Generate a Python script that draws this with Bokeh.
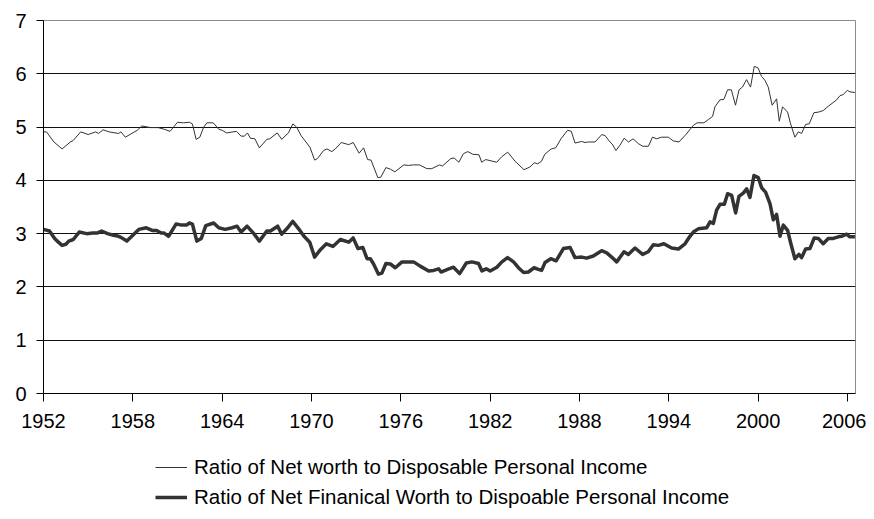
from bokeh.plotting import figure
from bokeh.models import Range1d, FixedTicker, Legend, LegendItem, ColumnDataSource
from bokeh.layouts import column
from bokeh.embed import file_html
from bokeh.resources import INLINE

# Ratio of Net worth to Disposable Personal Income
nw_years = [1952.0, 1952.2, 1952.7, 1953.25, 1953.8, 1954.0, 1954.5, 1955.0, 1955.5, 1955.7,
            1956.0, 1956.4, 1957.05, 1957.2, 1957.5, 1957.8, 1958.3, 1958.6, 1959.2, 1959.7,
            1960.1, 1960.5, 1961.0, 1961.4, 1961.8, 1962.0, 1962.25, 1962.5, 1962.76, 1962.98,
            1963.4, 1963.77, 1964.0, 1964.3, 1964.96, 1965.27, 1965.5, 1965.7, 1965.9, 1966.2,
            1966.5, 1967.0, 1967.2, 1967.7, 1968.0, 1968.45, 1968.75, 1969.0, 1969.3, 1969.9,
            1970.21, 1970.41, 1970.81, 1971.04, 1971.37, 1971.6, 1972.0, 1972.5, 1972.8, 1973.2,
            1973.5, 1973.77, 1974.0, 1974.46, 1974.66, 1975.0, 1975.3, 1975.6, 1976.2, 1976.5,
            1976.85, 1977.25, 1977.75, 1978.08, 1978.6, 1978.8, 1979.36, 1979.58, 1979.9, 1980.2,
            1980.5, 1980.83, 1981.25, 1981.43, 1981.7, 1982.44, 1982.77, 1983.18, 1983.67, 1984.27,
            1984.67, 1984.96, 1985.2, 1985.45, 1985.67, 1986.1, 1986.4, 1986.76, 1987.2, 1987.45,
            1987.7, 1988.15, 1988.37, 1988.6, 1989.05, 1989.5, 1989.72, 1990.05, 1990.2, 1990.45,
            1990.72, 1991.0, 1991.3, 1991.6, 1991.95, 1992.25, 1992.63, 1992.9, 1993.19, 1993.5,
            1993.97, 1994.3, 1994.68, 1995.15, 1995.64, 1995.9, 1996.36, 1996.65, 1996.94, 1997.1,
            1997.43, 1997.7, 1997.95, 1998.2, 1998.48, 1998.72, 1998.95, 1999.22, 1999.49, 1999.74,
            2000.0, 2000.23, 2000.45, 2000.68, 2000.94, 2001.24, 2001.42, 2001.64, 2001.98, 2002.18,
            2002.47, 2002.7, 2002.92, 2003.19, 2003.43, 2003.75, 2004.04, 2004.37, 2004.71, 2005.27,
            2005.5, 2005.72, 2005.99, 2006.17, 2006.5]
nw_values = [4.91, 4.91, 4.72, 4.59, 4.72, 4.75, 4.91, 4.86, 4.91, 4.88,
             4.95, 4.91, 4.88, 4.91, 4.81, 4.86, 4.94, 5.02, 4.99, 4.99,
             4.96, 4.92, 5.09, 5.08, 5.09, 5.06, 4.77, 4.81, 5.0, 5.08,
             5.08, 4.96, 4.94, 4.89, 4.92, 4.83, 4.83, 4.89, 4.79, 4.78,
             4.61, 4.77, 4.78, 4.89, 4.77, 4.89, 5.06, 5.0, 4.84, 4.62,
             4.38, 4.41, 4.56, 4.59, 4.54, 4.59, 4.71, 4.67, 4.71, 4.51,
             4.61, 4.39, 4.38, 4.05, 4.06, 4.24, 4.21, 4.16, 4.29, 4.28,
             4.29, 4.29, 4.22, 4.22, 4.29, 4.27, 4.41, 4.42, 4.34, 4.5,
             4.54, 4.49, 4.48, 4.34, 4.39, 4.34, 4.44, 4.53, 4.36, 4.2,
             4.25, 4.33, 4.31, 4.36, 4.49, 4.59, 4.61, 4.78, 4.94, 4.92,
             4.7, 4.73, 4.71, 4.72, 4.72, 4.86, 4.84, 4.72, 4.68, 4.56,
             4.66, 4.79, 4.72, 4.78, 4.69, 4.64, 4.64, 4.81, 4.78, 4.81,
             4.81, 4.74, 4.72, 4.86, 5.03, 5.08, 5.08, 5.14, 5.2, 5.38,
             5.51, 5.52, 5.7, 5.7, 5.41, 5.7, 5.75, 5.89, 5.75, 6.14,
             6.11, 5.95, 5.88, 5.75, 5.41, 5.53, 5.11, 5.38, 5.28, 5.06,
             4.81, 4.91, 4.88, 5.05, 5.06, 5.27, 5.28, 5.31, 5.39, 5.51,
             5.59, 5.61, 5.69, 5.66, 5.65]

# Ratio of Net Financial Worth to Disposable Personal Income
nfw_years = [1952.0, 1952.4, 1952.75, 1953.0, 1953.25, 1953.5, 1953.7, 1954.0, 1954.4, 1954.9,
             1955.3, 1955.6, 1955.9, 1956.3, 1956.7, 1957.05, 1957.2, 1957.6, 1958.0, 1958.4,
             1958.9, 1959.3, 1959.6, 1959.9, 1960.1, 1960.4, 1960.9, 1961.3, 1961.6, 1961.8,
             1962.0, 1962.3, 1962.6, 1962.9, 1963.43, 1963.77, 1964.2, 1964.67, 1965.0, 1965.27,
             1965.67, 1966.1, 1966.5, 1967.0, 1967.24, 1967.73, 1968.0, 1968.4, 1968.74, 1969.14,
             1969.47, 1969.88, 1970.21, 1970.6, 1971.0, 1971.44, 1971.94, 1972.5, 1972.8, 1973.12,
             1973.45, 1973.73, 1973.95, 1974.17, 1974.5, 1974.73, 1975.0, 1975.3, 1975.63, 1976.08,
             1976.4, 1976.86, 1977.3, 1977.87, 1978.2, 1978.54, 1978.7, 1979.14, 1979.54, 1979.95,
             1980.4, 1980.77, 1981.22, 1981.45, 1981.74, 1982.0, 1982.45, 1982.79, 1983.17, 1983.57,
             1983.97, 1984.25, 1984.57, 1984.95, 1985.24, 1985.46, 1985.69, 1986.07, 1986.43, 1986.92,
             1987.37, 1987.7, 1988.15, 1988.48, 1988.93, 1989.49, 1989.83, 1990.16, 1990.5, 1990.99,
             1991.28, 1991.73, 1992.24, 1992.62, 1992.96, 1993.3, 1993.67, 1994.19, 1994.64, 1995.09,
             1995.42, 1995.65, 1995.98, 1996.54, 1996.77, 1996.99, 1997.21, 1997.44, 1997.73, 1997.95,
             1998.22, 1998.49, 1998.71, 1999.0, 1999.23, 1999.45, 1999.72, 2000.01, 2000.24, 2000.5,
             2000.8, 2001.02, 2001.24, 2001.47, 2001.69, 2001.98, 2002.2, 2002.47, 2002.74, 2002.92,
             2003.19, 2003.48, 2003.77, 2004.04, 2004.37, 2004.71, 2005.05, 2005.38, 2005.6, 2005.94,
             2006.16, 2006.5]
nfw_values = [3.08, 3.05, 2.91, 2.84, 2.78, 2.8, 2.86, 2.89, 3.03, 3.0,
              3.01, 3.01, 3.05, 3.0, 2.97, 2.95, 2.93, 2.86, 2.97, 3.08,
              3.11, 3.06, 3.06, 3.01, 3.01, 2.95, 3.18, 3.16, 3.16, 3.2,
              3.18, 2.86, 2.91, 3.15, 3.2, 3.11, 3.08, 3.11, 3.14, 3.03,
              3.14, 3.01, 2.86, 3.05, 3.05, 3.14, 2.99, 3.11, 3.23, 3.09,
              2.96, 2.84, 2.56, 2.7, 2.81, 2.76, 2.89, 2.84, 2.92, 2.72,
              2.74, 2.53, 2.53, 2.43, 2.24, 2.26, 2.44, 2.43, 2.36, 2.47,
              2.47, 2.47, 2.39, 2.3, 2.31, 2.34, 2.28, 2.33, 2.37, 2.25,
              2.45, 2.47, 2.44, 2.3, 2.34, 2.3, 2.37, 2.47, 2.55, 2.47,
              2.34, 2.27, 2.28, 2.36, 2.33, 2.31, 2.46, 2.53, 2.49, 2.72,
              2.74, 2.55, 2.56, 2.54, 2.58, 2.68, 2.64, 2.56, 2.47, 2.66,
              2.61, 2.73, 2.61, 2.66, 2.79, 2.78, 2.81, 2.73, 2.71, 2.81,
              2.95, 3.03, 3.09, 3.11, 3.22, 3.19, 3.44, 3.55, 3.55, 3.75,
              3.72, 3.39, 3.7, 3.76, 3.84, 3.68, 4.09, 4.05, 3.86, 3.78,
              3.56, 3.26, 3.36, 2.95, 3.16, 3.06, 2.81, 2.53, 2.61, 2.55,
              2.71, 2.72, 2.92, 2.91, 2.81, 2.91, 2.91, 2.94, 2.95, 2.99,
              2.94, 2.94]

x_ticks = [1952, 1958, 1964, 1970, 1976, 1982, 1988, 1994, 2000, 2006]
y_ticks = [0, 1, 2, 3, 4, 5, 6, 7]
labels = ["Ratio of Net worth to Disposable Personal Income",
          "Ratio of Net Finanical Worth to Dispoable Personal Income"]

FONT = "Liberation Sans"
LINE_COLOR = "#333333"

p = figure(width=866, height=438, output_backend="svg", toolbar_location=None,
           x_range=Range1d(1952, 2006.54), y_range=Range1d(0, 7),
           min_border_left=43, min_border_right=11, min_border_top=20, min_border_bottom=45)

p.background_fill_color = "white"
p.border_fill_color = "white"
p.outline_line_color = "#8c8c8c"
p.outline_line_width = 1

# grid
p.xgrid.visible = False
p.ygrid.ticker = FixedTicker(ticks=y_ticks)
p.ygrid.grid_line_color = "#111111"
p.ygrid.grid_line_width = 1

# axes
p.xaxis.ticker = FixedTicker(ticks=x_ticks)
p.yaxis.ticker = FixedTicker(ticks=y_ticks)
for ax in (p.xaxis[0], p.yaxis[0]):
    ax.axis_line_color = "black"
    ax.axis_line_width = 1
    ax.major_tick_line_color = "black"
    ax.major_tick_in = 0
    ax.minor_tick_line_color = None
    ax.major_label_text_font = FONT
    ax.major_label_text_font_size = "20px"
    ax.major_label_text_color = "black"
p.xaxis.major_tick_out = 8
p.yaxis.major_tick_out = 7
p.xaxis.major_label_standoff = 12
p.yaxis.major_label_standoff = 10

src_nw = ColumnDataSource(dict(x=nw_years, y=nw_values))
src_nfw = ColumnDataSource(dict(x=nfw_years, y=nfw_values))

p.line("x", "y", source=src_nw, line_color=LINE_COLOR, line_width=1)
p.line("x", "y", source=src_nfw, line_color=LINE_COLOR, line_width=3.5, line_join="round")

# legend panel below the chart (its frame is aligned with the chart's frame)
leg = figure(width=866, height=78, output_backend="svg", toolbar_location=None,
             x_range=Range1d(0, 1), y_range=Range1d(0, 1),
             x_axis_type=None, y_axis_type=None,
             min_border_left=0, min_border_right=0, min_border_top=0, min_border_bottom=0)
leg.outline_line_color = None
leg.xgrid.visible = False
leg.ygrid.visible = False
leg.background_fill_color = "white"
leg.border_fill_color = "white"

# key renderers share the series' data; it lies outside this panel's ranges
k1 = leg.line("x", "y", source=src_nw, line_color=LINE_COLOR, line_width=1)
k2 = leg.line("x", "y", source=src_nfw, line_color=LINE_COLOR, line_width=3.5)

legend = Legend(items=[LegendItem(label=labels[0], renderers=[k1]),
                       LegendItem(label=labels[1], renderers=[k2])],
                location=(112, 7), orientation="vertical",
                padding=0, margin=0, spacing=6,
                glyph_width=32, glyph_height=20, label_height=20, label_standoff=7,
                label_text_font=FONT, label_text_font_size="20.5px", label_text_color="black",
                border_line_color=None, background_fill_alpha=0)
leg.add_layout(legend, "center")

layout = column(p, leg, spacing=0)

open("out.html", "w").write(file_html(layout, INLINE))
